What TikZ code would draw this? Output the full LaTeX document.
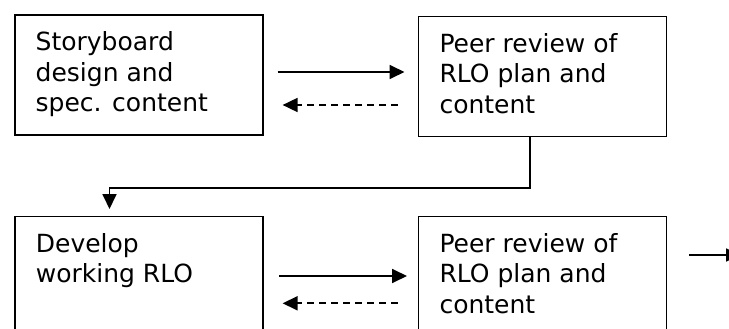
\documentclass[tikz,border=0pt]{standalone}
\usepackage{fontspec}
\setmainfont{DejaVu Sans}
\usetikzlibrary{arrows.meta,calc}
\begin{document}
\begin{tikzpicture}[x=1pt,y=-1pt,
  box/.style={draw,line width=1.6pt,minimum width=248pt,minimum height=120pt,anchor=north west,inner sep=0pt},
  boxlow/.style={box,minimum height=140pt},
  txt/.style={anchor=base west,align=left,inner sep=0pt,font=\fontsize{25}{30.5}\selectfont},
  arr/.style={line width=1.8pt,-{Triangle[length=15pt,width=14pt]}},
  darr/.style={arr,dash pattern=on 7pt off 5pt}]
\useasboundingbox (0,0) rectangle (729,329);
\clip (0,0) rectangle (729,329);
\node[box] (b1) at (14,14) {};
\node[box] (b2) at (417.5,15.7) {};
\node[boxlow] (b3) at (14,215.7) {};
\node[boxlow] (b4) at (417.5,215.7) {};
\node[txt] (t1) at ($(b1.north west)+(21.5,97.7)$) {Storyboard\\design and\\spec. content};
\node[txt] (t2) at ($(b2.north west)+(21.8,97.7)$) {Peer review of\\RLO plan and\\content};
\node[txt] (t3) at ($(b3.north west)+(21.7,67.1)$) {Develop\\working RLO};
\node[txt] (t4) at ($(b4.north west)+(21.8,97.6)$) {Peer review of\\RLO plan and\\content};
\coordinate (ya) at (0,72);
\coordinate (yb) at (0,105);
\coordinate (yc) at (0,276);
\coordinate (yd) at (0,303.3);
\coordinate (ye) at (0,255);
\draw[arr,shorten <=14pt,shorten >=13pt] (b1.east |- ya) -- (b2.west |- ya);
\draw[darr,shorten <=20pt,shorten >=19pt] (b2.west |- yb) -- (b1.east |- yb);
\draw[arr,shorten <=15.5pt,shorten >=10.5pt] (b3.east |- yc) -- (b4.west |- yc);
\draw[darr,shorten <=20pt,shorten >=19pt] (b4.west |- yd) -- (b3.east |- yd);
\coordinate (c1) at (530,188);
\coordinate (c2) at (109.5,188);
\draw[line width=1.8pt,-{Triangle[length=15pt,width=14pt]},shorten >=6.7pt] (b2.south -| c1) -- (c1) -- (c2) -- (b3.north -| c2);
\coordinate (out) at (740,255);
\draw[line width=1.8pt,-{Triangle[length=14pt,width=13pt]}] ($(b4.east |- ye)+(22,0)$) -- (out);
\end{tikzpicture}
\end{document}
